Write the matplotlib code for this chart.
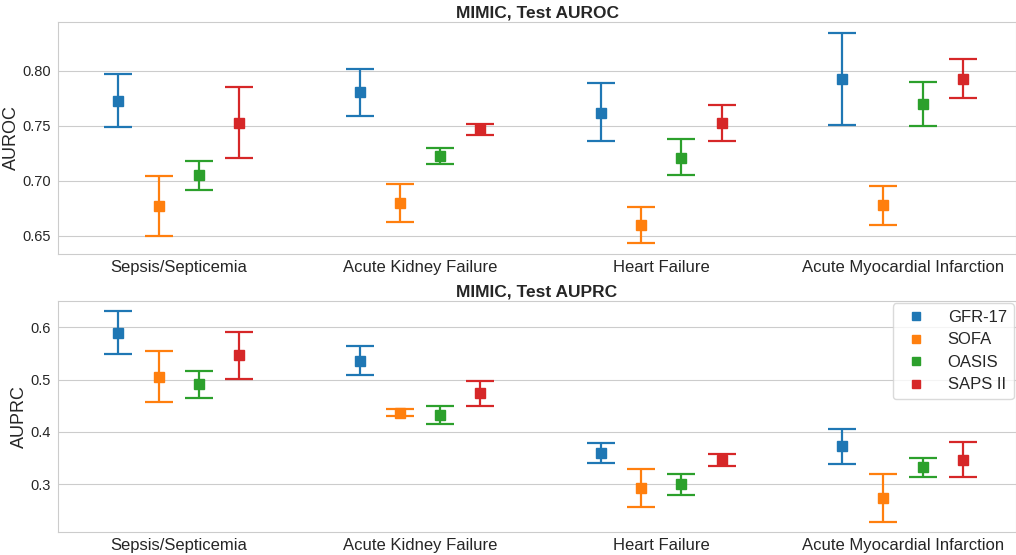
import numpy as np
import matplotlib
matplotlib.use("Agg")
import matplotlib.pyplot as plt
from matplotlib.lines import Line2D
import seaborn as sns

diseases = [
    "Sepsis/Septicemia",
    "Acute Kidney Failure",
    "Heart Failure",
    "Acute Myocardial Infarction",
]
models = ["GFR-17", "SOFA", "OASIS", "SAPS II"]
colors = ["#1f77b4", "#ff7f0e", "#2ca02c", "#d62728"]

# AUROC: point estimate with lower / upper confidence bounds, one row per model
auroc_mean = [
    [0.773, 0.781, 0.762, 0.793],
    [0.677, 0.680, 0.660, 0.678],
    [0.705, 0.723, 0.721, 0.770],
    [0.753, 0.747, 0.753, 0.793],
]
auroc_low = [
    [0.749, 0.759, 0.736, 0.751],
    [0.650, 0.663, 0.643, 0.660],
    [0.692, 0.715, 0.705, 0.750],
    [0.721, 0.742, 0.736, 0.775],
]
auroc_high = [
    [0.797, 0.802, 0.789, 0.835],
    [0.704, 0.697, 0.676, 0.695],
    [0.718, 0.730, 0.738, 0.790],
    [0.785, 0.752, 0.769, 0.811],
]

# AUPRC
auprc_mean = [
    [0.590, 0.536, 0.360, 0.373],
    [0.506, 0.437, 0.293, 0.274],
    [0.491, 0.433, 0.300, 0.332],
    [0.547, 0.474, 0.347, 0.347],
]
auprc_low = [
    [0.550, 0.508, 0.341, 0.338],
    [0.457, 0.430, 0.256, 0.228],
    [0.465, 0.416, 0.279, 0.313],
    [0.502, 0.449, 0.335, 0.314],
]
auprc_high = [
    [0.631, 0.564, 0.379, 0.406],
    [0.555, 0.443, 0.329, 0.320],
    [0.517, 0.450, 0.320, 0.351],
    [0.591, 0.498, 0.358, 0.381],
]

offsets = [-0.25, -0.083, 0.083, 0.25]

sns.set_style("whitegrid")
plt.rcParams["font.family"] = ["Liberation Sans", "DejaVu Sans"]


def draw_panel(ax, mean, low, high, title, ylabel):

    x = np.arange(len(diseases))

    for i, model in enumerate(models):

        m = np.array(mean[i])
        lo = m - np.array(low[i])
        hi = np.array(high[i]) - m

        ax.errorbar(
            x + offsets[i],
            m,
            yerr=[lo, hi],
            fmt="s",
            color=colors[i],
            markersize=6.5,
            elinewidth=1.6,
            capsize=10,
            capthick=1.6,
            label=model,
        )

    ax.set_xticks(x)
    ax.set_xticklabels(diseases, fontsize=12)
    ax.tick_params(axis="x", pad=0.5)
    ax.tick_params(axis="y", labelsize=10.5, pad=1.5)
    ax.set_xlim(-0.5, 3.47)
    ax.grid(axis="x", visible=False)
    ax.set_title(title, fontsize=12.5, fontweight="bold", pad=3)
    ax.set_ylabel(ylabel, fontsize=13, labelpad=2)


fig = plt.figure(figsize=(10.16, 5.55), dpi=100)

ax1 = fig.add_axes([0.0571, 0.5423, 0.9429, 0.4181])
ax2 = fig.add_axes([0.0571, 0.0409, 0.9429, 0.4173])

draw_panel(ax1, auroc_mean, auroc_low, auroc_high, "MIMIC, Test AUROC", "AUROC")
draw_panel(ax2, auprc_mean, auprc_low, auprc_high, "MIMIC, Test AUPRC", "AUPRC")

ax1.set_yticks([0.65, 0.70, 0.75, 0.80])
ax1.set_yticklabels(["0.65", "0.70", "0.75", "0.80"])
ax2.set_yticks([0.3, 0.4, 0.5, 0.6])

handles = [
    Line2D([], [], marker="s", linestyle="none", color=c, markersize=6)
    for c in colors
]
legend = ax2.legend(
    handles,
    models,
    loc="upper right",
    fontsize=12,
    frameon=True,
    handletextpad=0.9,
    labelspacing=0.45,
    borderaxespad=0.15,
)
legend.get_frame().set_edgecolor("0.82")

fig.savefig("out.png", dpi=100)
